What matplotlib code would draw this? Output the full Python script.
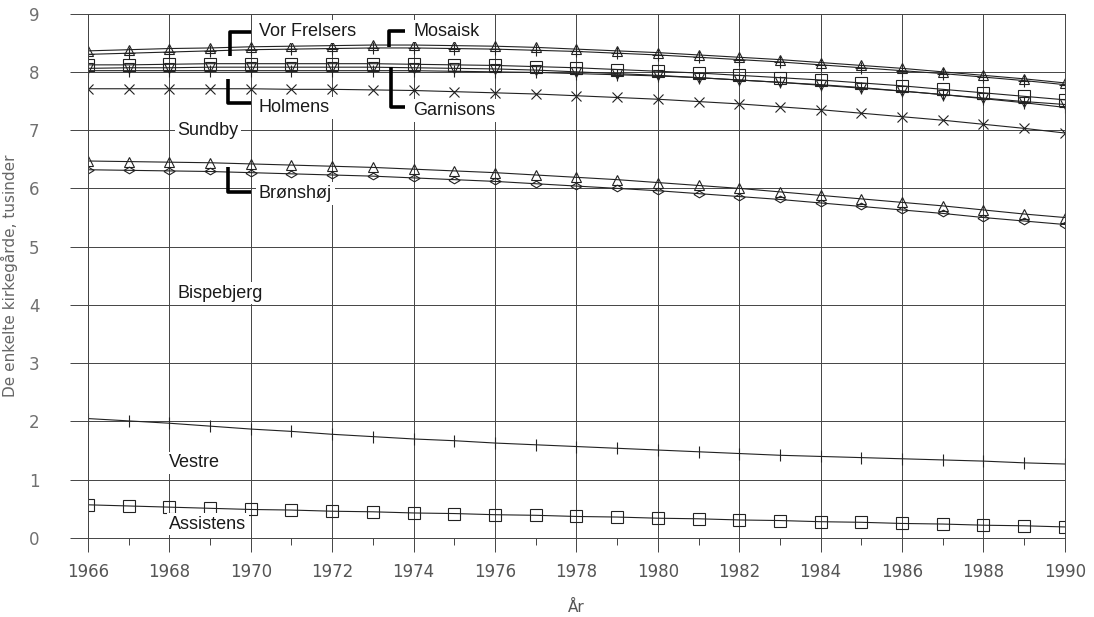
import matplotlib
matplotlib.use('Agg')
import matplotlib.pyplot as plt  # noqa: E402
from matplotlib.ticker import MultipleLocator  # noqa: E402

# Data (tusinder), 1966-1990
years = list(range(1966, 1991))

vor_frelsers = [8.36, 8.38, 8.40, 8.41, 8.43, 8.44, 8.45, 8.46, 8.46, 8.45, 8.44, 8.42, 8.39,
                8.36, 8.33, 8.29, 8.25, 8.21, 8.16, 8.11, 8.06, 8.00, 7.94, 7.88, 7.81]
mosaisk = [8.30, 8.32, 8.34, 8.36, 8.38, 8.39, 8.40, 8.41, 8.41, 8.40, 8.39, 8.37, 8.35,
           8.32, 8.29, 8.25, 8.21, 8.17, 8.12, 8.07, 8.02, 7.97, 7.91, 7.85, 7.78]
holmens = [8.12, 8.12, 8.13, 8.14, 8.14, 8.14, 8.14, 8.14, 8.13, 8.12, 8.11, 8.09, 8.07,
           8.04, 8.01, 7.98, 7.94, 7.90, 7.86, 7.81, 7.76, 7.70, 7.64, 7.58, 7.52]
garnisons = [8.06, 8.07, 8.07, 8.08, 8.08, 8.08, 8.08, 8.08, 8.07, 8.06, 8.05, 8.03, 8.00,
             7.97, 7.94, 7.90, 7.86, 7.82, 7.77, 7.72, 7.67, 7.61, 7.55, 7.49, 7.44]
garnisons_2 = [8.02, 8.02, 8.02, 8.02, 8.02, 8.02, 8.02, 8.02, 8.02, 8.01, 8.00, 7.99, 7.97,
               7.95, 7.93, 7.90, 7.86, 7.82, 7.78, 7.73, 7.67, 7.61, 7.54, 7.47, 7.39]
sundby = [7.71, 7.71, 7.71, 7.71, 7.71, 7.70, 7.70, 7.69, 7.68, 7.66, 7.64, 7.62, 7.59,
          7.56, 7.53, 7.49, 7.45, 7.40, 7.35, 7.29, 7.23, 7.17, 7.10, 7.03, 6.95]
bispebjerg = [6.47, 6.46, 6.45, 6.44, 6.42, 6.40, 6.38, 6.36, 6.33, 6.30, 6.27, 6.23, 6.19,
              6.15, 6.10, 6.05, 6.00, 5.94, 5.88, 5.82, 5.76, 5.70, 5.63, 5.56, 5.50]
bronshoj = [6.32, 6.31, 6.30, 6.29, 6.27, 6.25, 6.23, 6.21, 6.18, 6.15, 6.12, 6.08, 6.04,
            6.00, 5.96, 5.91, 5.86, 5.81, 5.75, 5.69, 5.63, 5.57, 5.50, 5.44, 5.38]
vestre = [2.05, 2.01, 1.97, 1.92, 1.87, 1.83, 1.78, 1.74, 1.70, 1.67, 1.63, 1.60, 1.57,
          1.54, 1.51, 1.48, 1.45, 1.42, 1.40, 1.38, 1.36, 1.34, 1.32, 1.29, 1.27]
assistens = [0.57, 0.55, 0.53, 0.51, 0.49, 0.48, 0.46, 0.45, 0.43, 0.42, 0.40, 0.39, 0.37,
             0.36, 0.34, 0.33, 0.31, 0.30, 0.28, 0.27, 0.25, 0.24, 0.22, 0.21, 0.19]

# Labels: (text, x, y) in data units
labels = [
    ('Vor Frelsers', 1970.2, 8.69),
    ('Mosaisk', 1974.0, 8.70),
    ('Holmens', 1970.2, 7.38),
    ('Garnisons', 1974.0, 7.34),
    ('Sundby', 1968.2, 7.0),
    ('Brønshøj', 1970.2, 5.91),
    ('Bispebjerg', 1968.2, 4.2),
    ('Vestre', 1968.0, 1.29),
    ('Assistens', 1968.0, 0.24),
]
# Bracket connectors: list of (xs, ys)
brackets = [
    ([1970.0, 1969.5, 1969.5], [8.69, 8.69, 8.28]),
    ([1973.8, 1973.4, 1973.4], [8.70, 8.70, 8.42]),
    ([1970.0, 1969.45, 1969.45], [7.47, 7.47, 7.87]),
    ([1973.8, 1973.45, 1973.45], [7.40, 7.40, 8.08]),
    ([1970.0, 1969.45, 1969.45], [5.93, 5.93, 6.36]),
]

plt.rcParams['font.family'] = ['Liberation Sans', 'DejaVu Sans']

fig = plt.figure(figsize=(10.94, 6.17), dpi=100)
ax = fig.add_axes([0.0804, 0.128, 0.893, 0.850])

line_kw = dict(color='#222222', linewidth=0.8, markerfacecolor='none',
               markeredgecolor='#222222', markeredgewidth=0.8)
flat_diamond = [(-1, 0), (0, 0.6), (1, 0), (0, -0.6), (-1, 0)]

ax.plot(years, vor_frelsers, marker='^', markersize=6.5, **line_kw)
ax.plot(years, mosaisk, marker='+', markersize=8, **line_kw)
ax.plot(years, holmens, marker='s', markersize=8, **line_kw)
ax.plot(years, garnisons, marker='v', markersize=7, **line_kw)
ax.plot(years, garnisons_2, marker='+', markersize=9, **line_kw)
ax.plot(years, sundby, marker='x', markersize=7, **line_kw)
ax.plot(years, bispebjerg, marker='^', markersize=7, **line_kw)
ax.plot(years, bronshoj, marker=flat_diamond, markersize=8, **line_kw)
ax.plot(years, vestre, marker='|', markersize=8, **line_kw)
ax.plot(years, assistens, marker='s', markersize=8, **line_kw)

for xs, ys in brackets:
    ax.plot(xs, ys, color='black', linewidth=2.6, solid_capstyle='butt', zorder=4)

for text, x, y in labels:
    ax.text(x, y, text, fontsize=13, color='#1a1a1a', va='center', ha='left', zorder=3,
            bbox=dict(boxstyle='square,pad=0.15', facecolor='white', edgecolor='none'))

ax.set_xlim(1966, 1990)
ax.set_ylim(0, 9)
ax.xaxis.set_major_locator(MultipleLocator(2))
ax.xaxis.set_minor_locator(MultipleLocator(1))
ax.yaxis.set_major_locator(MultipleLocator(1))
ax.grid(True, which='major', color='#444444', linewidth=0.7)
ax.set_axisbelow(True)

for side in ['top', 'right', 'left', 'bottom']:
    ax.spines[side].set_color('#444444')
    ax.spines[side].set_linewidth(0.7)

ax.tick_params(axis='y', length=13, width=0.7, color='#444444', pad=22,
               labelsize=12, labelcolor='#707070')
ax.tick_params(axis='x', which='major', length=10, width=0.7, color='#444444', pad=8,
               labelsize=12, labelcolor='#555555')
ax.tick_params(axis='x', which='minor', length=5, width=0.7, color='#444444')

for lab in ax.get_xticklabels() + ax.get_yticklabels():
    lab.set_family('DejaVu Sans')

ax.set_xlabel('År', fontsize=11, color='#555555', labelpad=14, family='DejaVu Sans')
ax.set_ylabel('De enkelte kirkegårde, tusinder', fontsize=11, color='#666666',
              labelpad=8, family='DejaVu Sans')

fig.savefig('out.png', dpi=100)
plt.close(fig)
